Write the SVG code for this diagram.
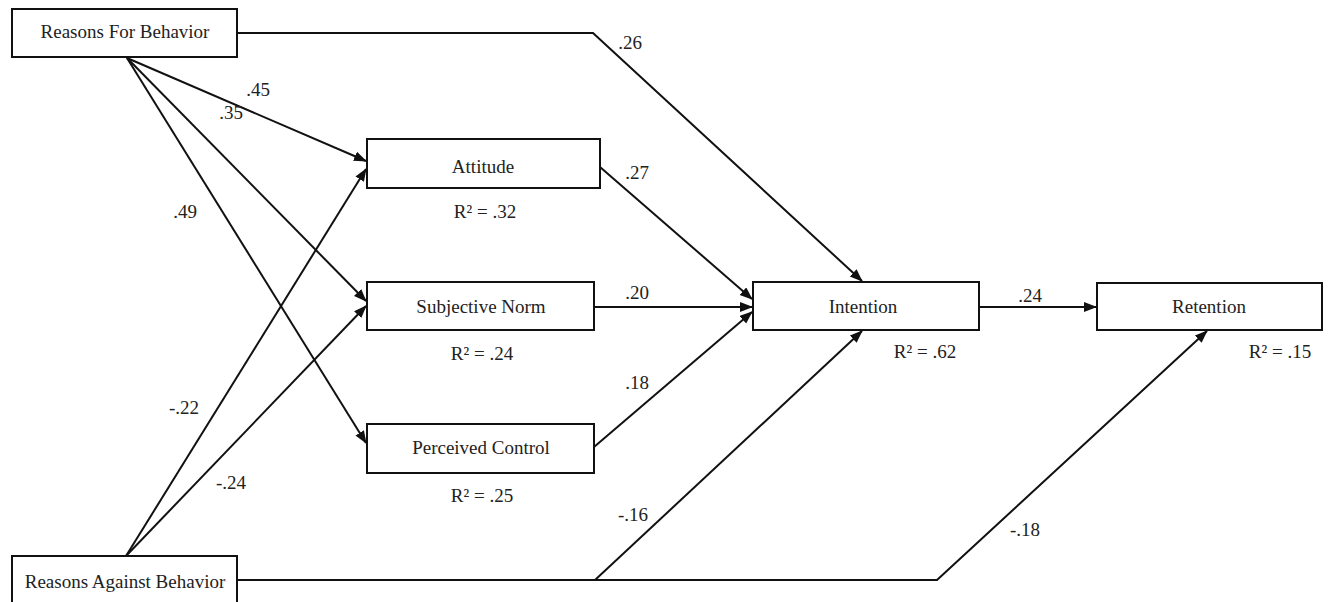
<svg xmlns="http://www.w3.org/2000/svg" width="1329" height="602" viewBox="0 0 1329 602">
<style>
text{font-family:"Liberation Serif","Times New Roman",serif;font-size:19px;fill:#222;text-anchor:middle}
.box{fill:#fff;stroke:#111;stroke-width:2}
.c{fill:none;stroke:#111;stroke-width:2}
</style>
<defs>
<marker id="ah" markerUnits="userSpaceOnUse" markerWidth="14" markerHeight="12" refX="12" refY="5" orient="auto">
<path d="M0,0 L13,5 L0,10 z" fill="#111"/>
</marker>
</defs>
<g id="connectors">
<path class="c" d="M127,58 L366,161" marker-end="url(#ah)"/>
<path class="c" d="M127,58 L366,301" marker-end="url(#ah)"/>
<path class="c" d="M127,58 L366,443" marker-end="url(#ah)"/>
<path class="c" d="M126,556 L366,169" marker-end="url(#ah)"/>
<path class="c" d="M126,556 L366,306" marker-end="url(#ah)"/>
<path class="c" d="M237,33 L593,33 L862,281" marker-end="url(#ah)"/>
<path class="c" d="M237,580 L937,580 L1207,331" marker-end="url(#ah)"/>
<path class="c" d="M595,580 L862,331" marker-end="url(#ah)"/>
<path class="c" d="M600,167 L752,299" marker-end="url(#ah)"/>
<path class="c" d="M594,307 L752,307" marker-end="url(#ah)"/>
<path class="c" d="M594,447 L752,312" marker-end="url(#ah)"/>
<path class="c" d="M979,307 L1096,307" marker-end="url(#ah)"/>
</g>
<g id="edge-labels">
<text x="258" y="96">.45</text>
<text x="231" y="119">.35</text>
<text x="185" y="218">.49</text>
<text x="630" y="49">.26</text>
<text x="637" y="179">.27</text>
<text x="637" y="299">.20</text>
<text x="637" y="389">.18</text>
<text x="1030" y="302">.24</text>
<text x="184" y="414">-.22</text>
<text x="231" y="489">-.24</text>
<text x="633" y="521">-.16</text>
<text x="1025" y="536">-.18</text>
</g>
<g id="reasons-for">
<rect class="box" x="12" y="9" width="225" height="48"/>
<text x="125" y="38">Reasons For Behavior</text>
</g>
<g id="reasons-against">
<rect class="box" x="12" y="556" width="225" height="50"/>
<text x="125" y="588">Reasons Against Behavior</text>
</g>
<g id="attitude">
<rect class="box" x="367" y="139" width="233" height="49"/>
<text x="483" y="173">Attitude</text>
<text x="485" y="218">R² = .32</text>
</g>
<g id="subjective-norm">
<rect class="box" x="367" y="282" width="227" height="48"/>
<text x="481" y="313">Subjective Norm</text>
<text x="482" y="360">R² = .24</text>
</g>
<g id="perceived-control">
<rect class="box" x="367" y="424" width="227" height="49"/>
<text x="481" y="454">Perceived Control</text>
<text x="482" y="502">R² = .25</text>
</g>
<g id="intention">
<rect class="box" x="753" y="282" width="226" height="48"/>
<text x="863" y="313">Intention</text>
<text x="925" y="358">R² = .62</text>
</g>
<g id="retention">
<rect class="box" x="1097" y="283" width="225" height="47"/>
<text x="1209" y="313">Retention</text>
<text x="1280" y="358">R² = .15</text>
</g>
</svg>
